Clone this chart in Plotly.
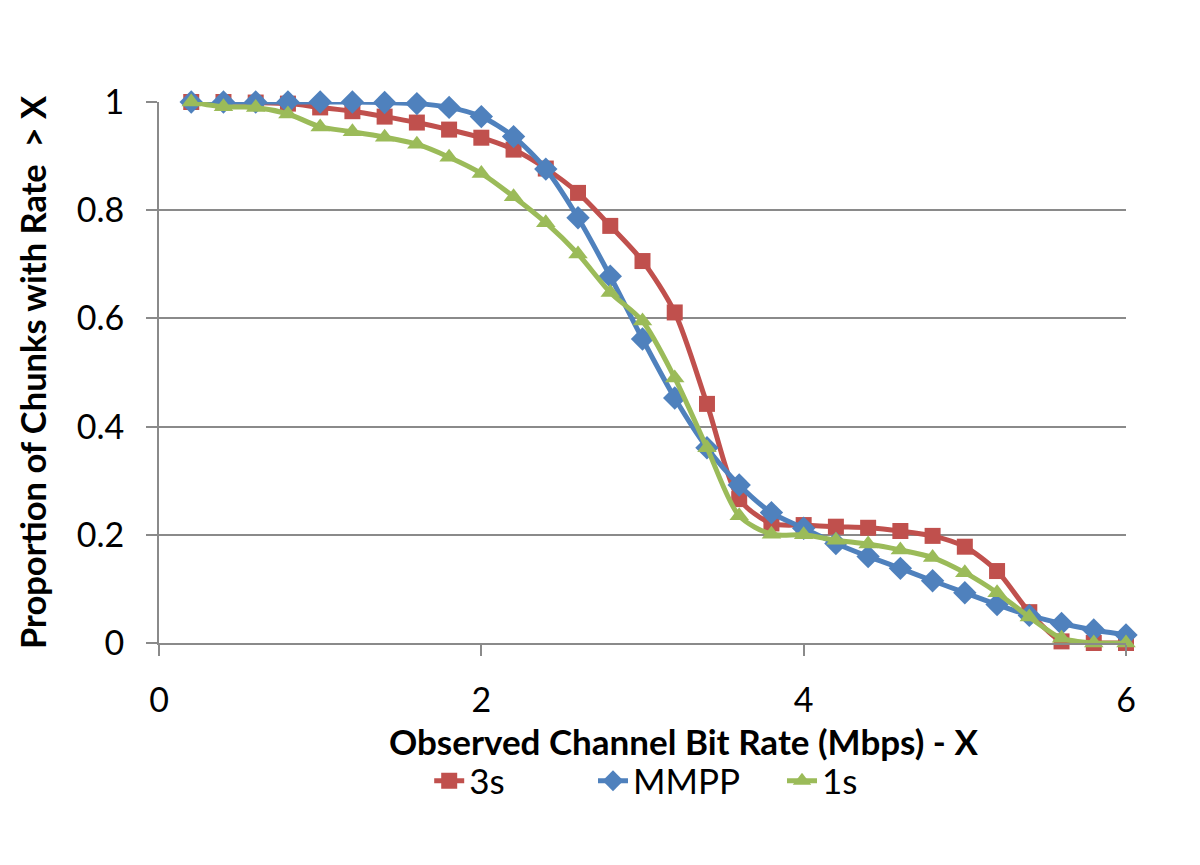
import plotly.graph_objects as go

x_vals = [0.2, 0.4, 0.6, 0.8, 1.0, 1.2, 1.4, 1.6, 1.8, 2.0, 2.2, 2.4, 2.6, 2.8, 3.0,
          3.2, 3.4, 3.6, 3.8, 4.0, 4.2, 4.4, 4.6, 4.8, 5.0, 5.2, 5.4, 5.6, 5.8, 6.0]

s3 = [1.0, 1.0, 0.999, 0.997, 0.99, 0.983, 0.973, 0.962, 0.949, 0.934, 0.912, 0.877, 0.832,
      0.771, 0.706, 0.611, 0.442, 0.266, 0.221, 0.218, 0.215, 0.213, 0.207, 0.198, 0.178,
      0.133, 0.057, 0.003, 0.0, 0.0]

mmpp = [1.0, 1.0, 1.0, 1.0, 1.0, 1.0, 0.999, 0.997, 0.99, 0.973, 0.936, 0.876, 0.786,
        0.678, 0.562, 0.453, 0.361, 0.292, 0.241, 0.212, 0.184, 0.16, 0.138, 0.115, 0.093,
        0.071, 0.051, 0.036, 0.024, 0.015]

s1 = [1.0, 0.991, 0.99, 0.978, 0.954, 0.945, 0.935, 0.922, 0.898, 0.868, 0.825, 0.777, 0.719,
      0.648, 0.595, 0.49, 0.361, 0.235, 0.201, 0.2, 0.19, 0.183, 0.172, 0.158, 0.13,
      0.093, 0.048, 0.009, 0.0, 0.0]

x_title = "Observed Channel Bit Rate (Mbps) - X"
y_title = "Proportion of Chunks with Rate  > X"

series = [
    ("3s", s3, "#C0504D", "square", 16, "legend", 0.351),
    ("MMPP", mmpp, "#4F81BD", "diamond", 18, "legend2", 0.4875),
    ("1s", s1, "#9BBB59", "triangle-up", 17, "legend3", 0.645),
]

FONT = "Lato"
FS = 34

fig = go.Figure()
legends = {}
for name, vals, color, sym, msize, leg, lx in series:
    fig.add_trace(go.Scatter(
        x=x_vals, y=vals, name=name, mode="lines+markers",
        line=dict(color=color, width=5, shape="spline", smoothing=0.8),
        marker=dict(symbol=sym, size=msize, color=color),
        cliponaxis=False, legend=leg,
    ))
    legends[leg] = dict(orientation="h", xref="container", yref="container",
                        x=lx, xanchor="left", y=1 - 773 / 865, yanchor="middle",
                        font=dict(size=35), itemwidth=30, bgcolor="rgba(0,0,0,0)")

fig.update_layout(
    width=1200, height=865,
    paper_bgcolor="white", plot_bgcolor="white",
    margin=dict(l=151, r=82, t=94, b=230),
    font=dict(family=FONT, size=FS, color="black"),
    showlegend=True,
    **legends,
)

fig.add_annotation(
    text="<b>" + x_title + "</b>", xref="paper", yref="paper",
    x=(675 - 151) / (1200 - 151 - 82), y=-(733 - 635) / (635 - 94),
    xanchor="center", yanchor="middle", showarrow=False,
    font=dict(size=35, family=FONT, color="black"),
)

fig.update_xaxes(
    range=[0, 6], tickvals=[0, 2, 4, 6], ticktext=["0", "2", "4", "6"],
    showgrid=False, zeroline=False,
    showline=True, linecolor="#8a8a8a", linewidth=2,
    ticks="outside", ticklen=11, tickcolor="#8a8a8a", tickwidth=2,
    tickfont=dict(size=FS), ticklabelstandoff=15,
)
fig.update_yaxes(
    range=[0, 1], tickvals=[0, 0.2, 0.4, 0.6, 0.8, 1.0],
    ticktext=["0", "0.2", "0.4", "0.6", "0.8", "1"],
    showgrid=True, gridcolor="#8a8a8a", gridwidth=2, zeroline=False,
    showline=True, linecolor="#8a8a8a", linewidth=2,
    ticks="outside", ticklen=11, tickcolor="#8a8a8a", tickwidth=2,
    tickfont=dict(size=FS), ticklabelstandoff=15,
    title=dict(text="<b>" + y_title + "</b>", font=dict(size=34.5), standoff=20),
)

fig.write_html("out.html")
